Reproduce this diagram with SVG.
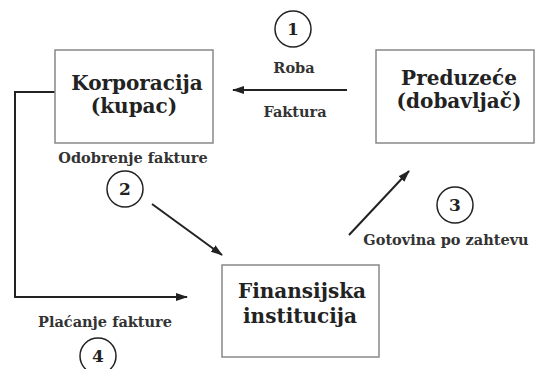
<svg xmlns="http://www.w3.org/2000/svg" width="536" height="369" viewBox="0 0 536 369">
<defs>
<marker id="ah" viewBox="0 0 12 10" refX="11" refY="5" markerWidth="12" markerHeight="10" markerUnits="userSpaceOnUse" orient="auto">
<path d="M0,1 L12,5 L0,9 z" fill="#222"/>
</marker>
</defs>
<style>
.box{fill:#fff;stroke:#888;stroke-width:1.5}
.big{font-family:"DejaVu Serif",serif;font-weight:bold;font-size:20px;fill:#222;text-anchor:middle}
.lbl{font-family:"DejaVu Serif",serif;font-weight:bold;font-size:14.5px;fill:#333;text-anchor:middle}
.num{font-family:"DejaVu Serif",serif;font-weight:bold;font-size:17px;fill:#222;text-anchor:middle}
.circ{fill:none;stroke:#222;stroke-width:1.5}
.arr{fill:none;stroke:#222;stroke-width:2;marker-end:url(#ah)}
</style>
<rect width="536" height="369" fill="#fff"/>
<g id="connectors">
<path class="arr" d="M347,90 L233,90"/>
<path class="arr" d="M152,204 L222,255"/>
<path class="arr" d="M349,235 L409,171"/>
<path class="arr" d="M55,92 L15,92 L15,297 L187,297"/>
</g>
<g id="korporacija">
<rect class="box" x="55" y="50" width="158" height="93"/>
<text class="big" x="137" y="90">Korporacija</text>
<text class="big" x="134" y="113">(kupac)</text>
</g>
<g id="preduzece">
<rect class="box" x="376" y="50" width="158" height="93"/>
<text class="big" x="459" y="85">Preduzeće</text>
<text class="big" x="459" y="108">(dobavljač)</text>
</g>
<g id="finansijska">
<rect class="box" x="222" y="265" width="157" height="92"/>
<text class="big" x="302" y="298">Finansijska</text>
<text class="big" x="300" y="323">institucija</text>
</g>
<g id="step1">
<circle class="circ" cx="293" cy="29" r="18"/>
<text class="num" x="293" y="35">1</text>
<text class="lbl" x="294" y="73">Roba</text>
<text class="lbl" x="295" y="117">Faktura</text>
</g>
<g id="step2">
<text class="lbl" x="133" y="163">Odobrenje fakture</text>
<circle class="circ" cx="125" cy="189" r="18"/>
<text class="num" x="125" y="195">2</text>
</g>
<g id="step3">
<circle class="circ" cx="455" cy="205" r="18"/>
<text class="num" x="455" y="211">3</text>
<text class="lbl" x="446" y="245">Gotovina po zahtevu</text>
</g>
<g id="step4">
<text class="lbl" x="105" y="327">Plaćanje fakture</text>
<circle class="circ" cx="98" cy="356" r="18"/>
<text class="num" x="98" y="362">4</text>
</g>
</svg>
